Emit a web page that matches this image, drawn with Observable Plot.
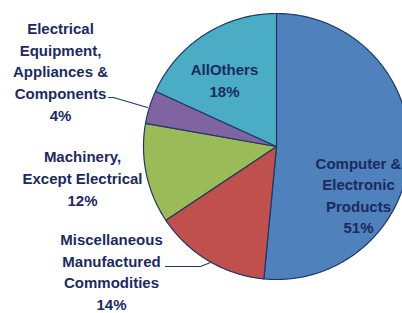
<!DOCTYPE html>
<html>
<head>
<meta charset="utf-8">
<script src="https://cdn.jsdelivr.net/npm/d3@7"></script>
<script src="https://cdn.jsdelivr.net/npm/@observablehq/plot@0.6"></script>
<style>
  html, body { margin: 0; padding: 0; background: #ffffff; }
  #chart svg { display: block; }
</style>
</head>
<body>
<div id="chart"></div>
<script>
// ---- Data ----
const categories = [
  "Computer & Electronic Products",
  "Miscellaneous Manufactured Commodities",
  "Machinery, Except Electrical",
  "Electrical Equipment, Appliances & Components",
  "All Others"
];
const labelTexts = [
  "Computer &\nElectronic\nProducts",
  "Miscellaneous\nManufactured\nCommodities",
  "Machinery,\nExcept Electrical",
  "Electrical\nEquipment,\nAppliances &\nComponents",
  "AllOthers"
];
const shares = [51, 14, 12, 4, 18];
const colors = ["#4F81BD", "#C0504D", "#9BBB59", "#8064A2", "#4BACC6"];

// ---- Layout (pixels in the 402x313 frame) ----
const W = 402, H = 313;
const CX = 276, CY = 146, R = 133;
const toU = (px, py) => [(px - CX) / R, (CY - py) / R];
const labelAt = [[358, 193.5], [111, 270], [82, 176.5], [60, 70], [224, 78.5]];
const leaders = [
  {name: categories[3], pts: [[108, 97], [113, 97], [147, 107]]},
  {name: categories[1], pts: [[165, 266], [200, 266], [210, 262]]}
];

// ---- Pie geometry from the data ----
const pie = d3.pie().sort(null).value(d => d.value).startAngle(0).endAngle(2 * Math.PI);
const arcs = pie(categories.map((c, i) => ({name: c, value: shares[i]})));
const slicePts = [];
arcs.forEach(a => {
  slicePts.push({name: a.data.name, x: 0, y: 0});
  const n = Math.max(2, Math.ceil((a.endAngle - a.startAngle) / (Math.PI / 360)));
  for (let k = 0; k <= n; k++) {
    const t = a.startAngle + (a.endAngle - a.startAngle) * k / n;
    slicePts.push({name: a.data.name, x: Math.sin(t), y: Math.cos(t)});
  }
});

const labels = categories.map((c, i) => {
  const [x, y] = toU(...labelAt[i]);
  return {name: c, text: labelTexts[i] + "\n" + shares[i] + "%", x, y};
});
const leaderPts = [];
leaders.forEach(l => l.pts.forEach(p => {
  const [x, y] = toU(...p);
  leaderPts.push({name: l.name, x, y});
}));

const chart = Plot.plot({
  width: W,
  height: H,
  margin: 0,
  x: {domain: [-CX / R, (W - CX) / R], axis: null},
  y: {domain: [-(H - CY) / R, CY / R], axis: null},
  color: {domain: categories, range: colors},
  style: {background: "transparent", overflow: "hidden"},
  marks: [
    Plot.line(slicePts, {
      x: "x", y: "y", z: "name", fill: "name",
      stroke: "#1F3864", strokeWidth: 1.2, curve: "linear-closed", strokeLinejoin: "round"
    }),
    Plot.line(leaderPts, {x: "x", y: "y", z: "name", stroke: "#1F3864", strokeWidth: 1.1}),
    Plot.text(labels, {
      x: "x", y: "y", text: "text",
      fill: "#1c2a5e", fontSize: 15, fontWeight: "bold",
      fontFamily: "Liberation Sans, Arial, sans-serif",
      lineHeight: 1.44, textAnchor: "middle"
    })
  ]
});
document.getElementById("chart").appendChild(chart);
</script>
</body>
</html>
